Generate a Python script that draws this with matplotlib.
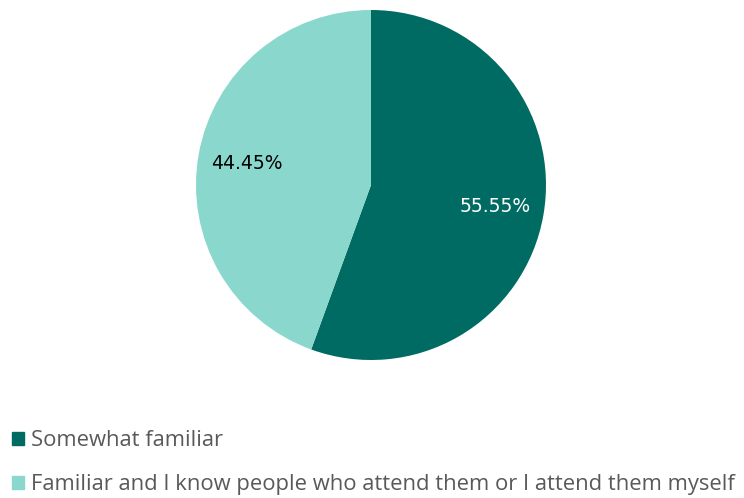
import matplotlib.pyplot as plt
from matplotlib.patches import Patch

labels = ["Somewhat familiar",
          "Familiar and I know people who attend them or I attend them myself"]
values = [55.55, 44.45]
colors = ["#006B62", "#8AD8CD"]
pct_colors = ["white", "black"]

fig = plt.figure(figsize=(7.44, 4.98), dpi=100)
ax = fig.add_axes([196 / 744, 138 / 498, 350 / 744, 350 / 498])

wedges, texts, autotexts = ax.pie(
    values, colors=colors, startangle=90, counterclock=False,
    autopct="%.2f%%", pctdistance=0.72,
    wedgeprops=dict(linewidth=0),
    textprops=dict(fontsize=13.5, family="DejaVu Sans"),
)
for t, c in zip(autotexts, pct_colors):
    t.set_color(c)
ax.set_xlim(-1, 1)
ax.set_ylim(-1, 1)
ax.set_aspect("equal")

handles = [Patch(color=c) for c in colors]
fig.legend(handles, labels, loc="upper left", bbox_to_anchor=(-0.01, 0.176),
           frameon=False, handlelength=0.55, handleheight=0.55, handletextpad=0.3,
           labelspacing=1.05, labelcolor="#595959",
           prop=dict(family="Open Sans", size=15.8))

plt.savefig("out.png", dpi=100)
